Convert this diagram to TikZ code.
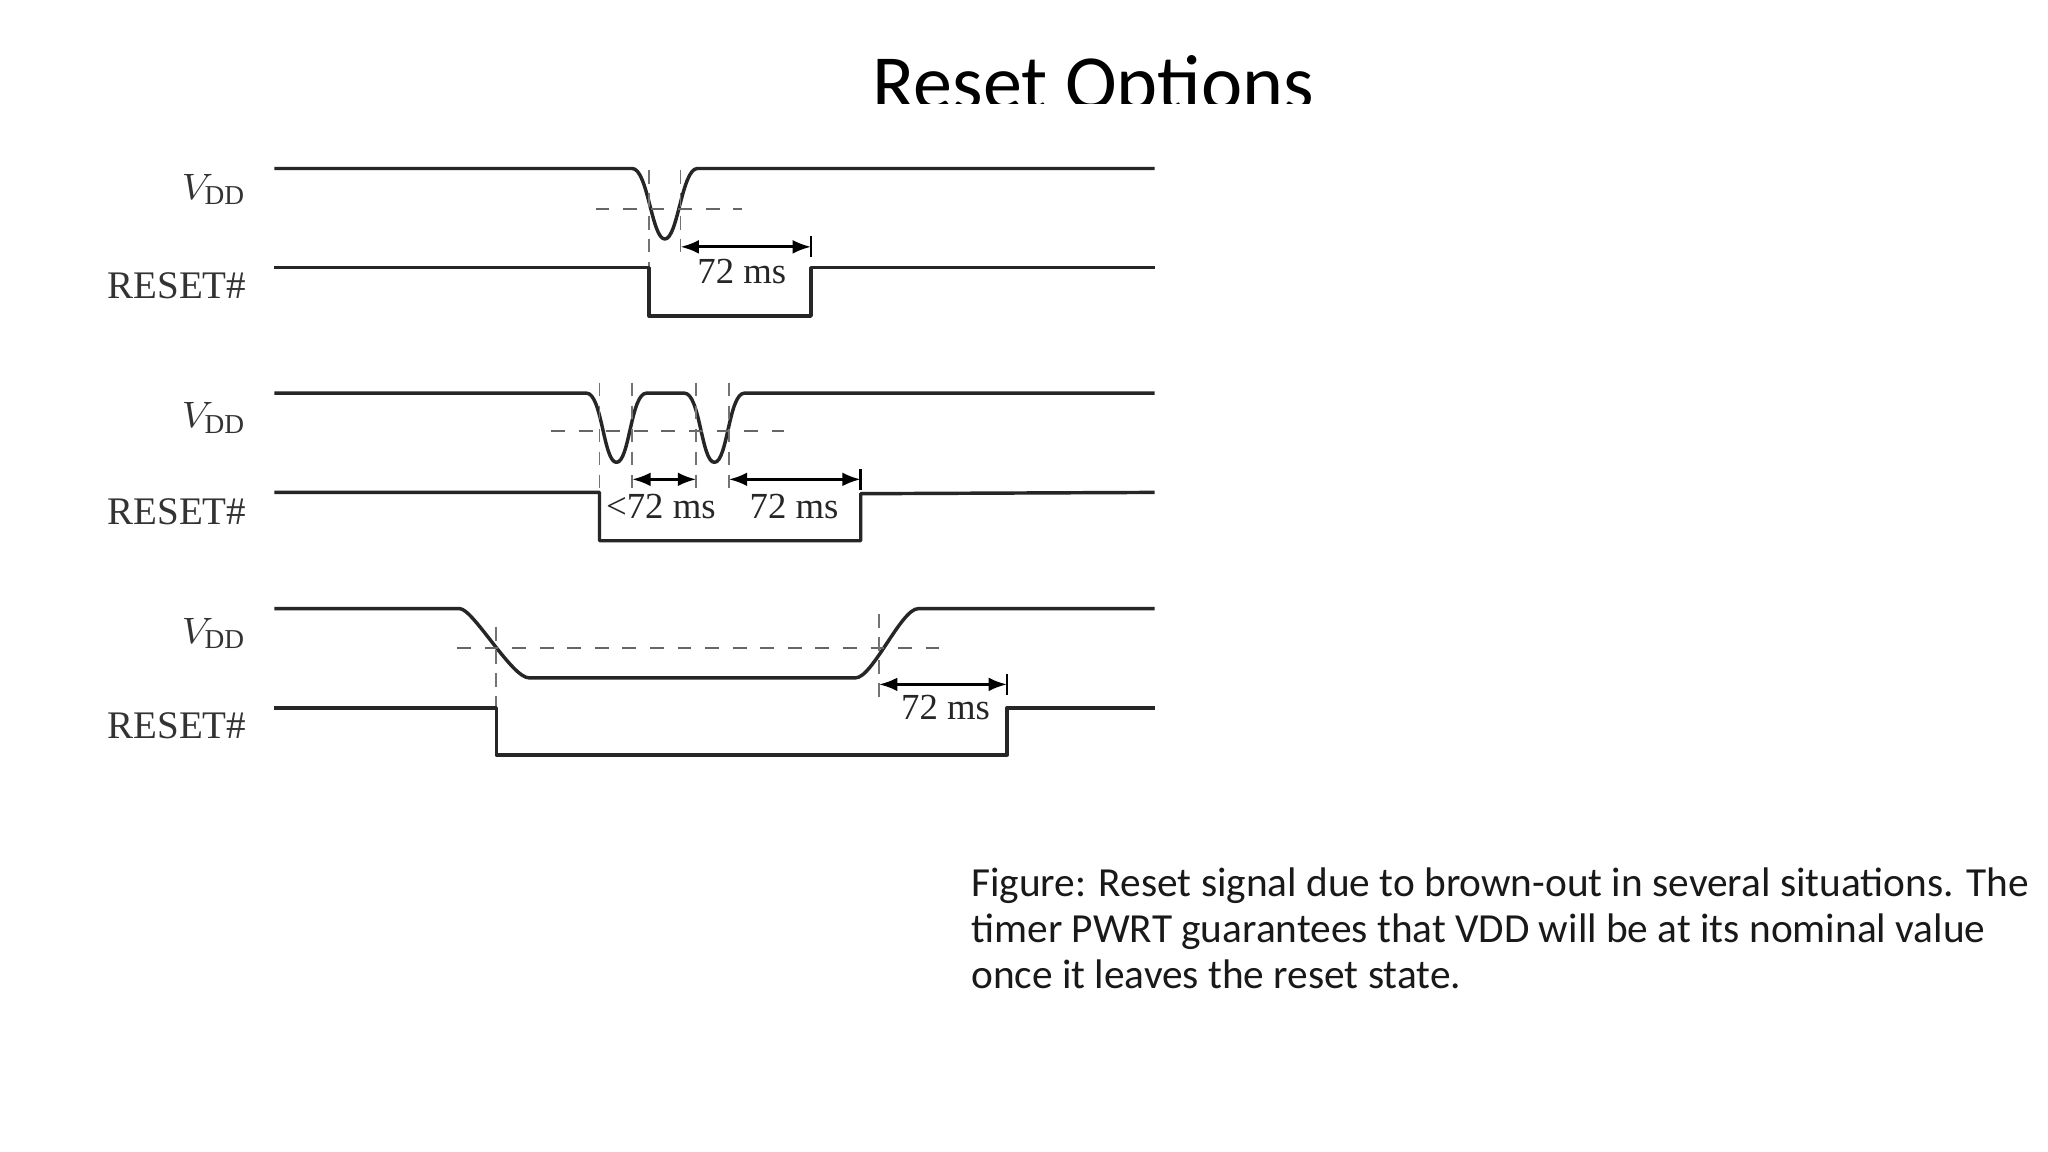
\documentclass[tikz,border=0pt]{standalone}
\usepackage{fontspec}
\setmainfont{Liberation Serif}
\newfontfamily\carlitofont{Carlito}
\usetikzlibrary{arrows.meta}
\begin{document}
\begin{tikzpicture}[x=0.01cm,y=-0.01cm,
  sig/.style={line width=0.75pt,line join=round,color=black!85},
  thr/.style={dashed,line width=0.5pt,color=black!60},
  guide/.style={dash pattern=on 3pt off 2pt,line width=0.4pt,color=black!55},
  dim/.style={line width=0.6pt,{Latex[length=4pt,width=3pt]}-{Latex[length=4pt,width=3pt]}},
  lab/.style={font=\fontsize{8.5}{9}\selectfont,anchor=east,color=black!80},
  ms/.style={font=\fontsize{8}{9}\selectfont,color=black!85}]
\useasboundingbox (0,0) rectangle (1568,882);
\fill[white] (0,0) rectangle (1568,882);
\begin{scope}
\clip (0,0) rectangle (1568,79);
\node[font=\carlitofont\fontsize{17}{18}\selectfont,anchor=base] (title) at (837,84) {Reset Options};
\end{scope}
% labels
\foreach \y/\n in {145/a,320/b,485/c} {\node[lab] (v\n) at (201,\y) {$V_{\mathrm{DD}}$};}
\foreach \y/\n in {219/a,392/b,556/c} {\node[lab] (r\n) at (201,\y) {RESET\#};}
% panel 1
\draw[sig] (210,129) -- (484,129) .. controls (496,129) and (499,183) .. (509,183) .. controls (519,183) and (522,129) .. (534,129) -- (884,129);
\draw[thr] (456,160) -- (568,160);
\draw[guide] (497,130) -- (497,242);
\draw[guide] (521,130) -- (521,200);
\draw[sig] (210,205) -- (497,205) -- (497,242) -- (621,242) -- (621,205) -- (884,205);
\draw[line width=0.6pt] (621,181) -- (621,197);
\draw[dim] (521,189) -- (621,189);
\node[ms] (m1) at (568,208) {72 ms};
% panel 2
\draw[sig] (210,301) -- (449,301) .. controls (461,301) and (462,354) .. (472,354) .. controls (482,354) and (483,301) .. (495,301) -- (524,301) .. controls (536,301) and (537,354) .. (547,354) .. controls (557,354) and (558,301) .. (570,301) -- (884,301);
\draw[thr] (422,330) -- (600,330);
\foreach \x in {459,484,533,558} {\draw[guide] (\x,293) -- (\x,375);}
\draw[sig] (210,377) -- (459,377) -- (459,414) -- (659,414) -- (659,378) -- (884,377);
\draw[line width=0.6pt] (659,359) -- (659,375);
\draw[dim] (484,367) -- (533,367);
\draw[dim] (558,367) -- (659,367);
\node[ms] (m2) at (506,388) {<72 ms};
\node[ms] (m3) at (608,388) {72 ms};
% panel 3
\draw[sig] (210,466) -- (352,466) .. controls (362,466) and (392,519) .. (405,519) -- (655,519) .. controls (668,519) and (690,466) .. (703,466) -- (884,466);
\draw[thr] (350,496) -- (726,496);
\draw[guide] (380,480) -- (380,578);
\draw[guide] (673,470) -- (673,535);
\draw[sig] (210,542) -- (380,542) -- (380,578) -- (771,578) -- (771,542) -- (884,542);
\draw[line width=0.6pt] (771,516) -- (771,532);
\draw[dim] (673,524) -- (771,524);
\node[ms] (m4) at (724,542) {72 ms};
% caption
\node[anchor=north west,align=left,font=\carlitofont\fontsize{9}{10}\selectfont,color=black!90,inner sep=0pt] (cap) at (743,664)
{Figure: Reset signal due to brown-out in several situations. The\\
timer PWRT guarantees that VDD will be at its nominal value\\
once it leaves the reset state.};
\end{tikzpicture}
\end{document}
